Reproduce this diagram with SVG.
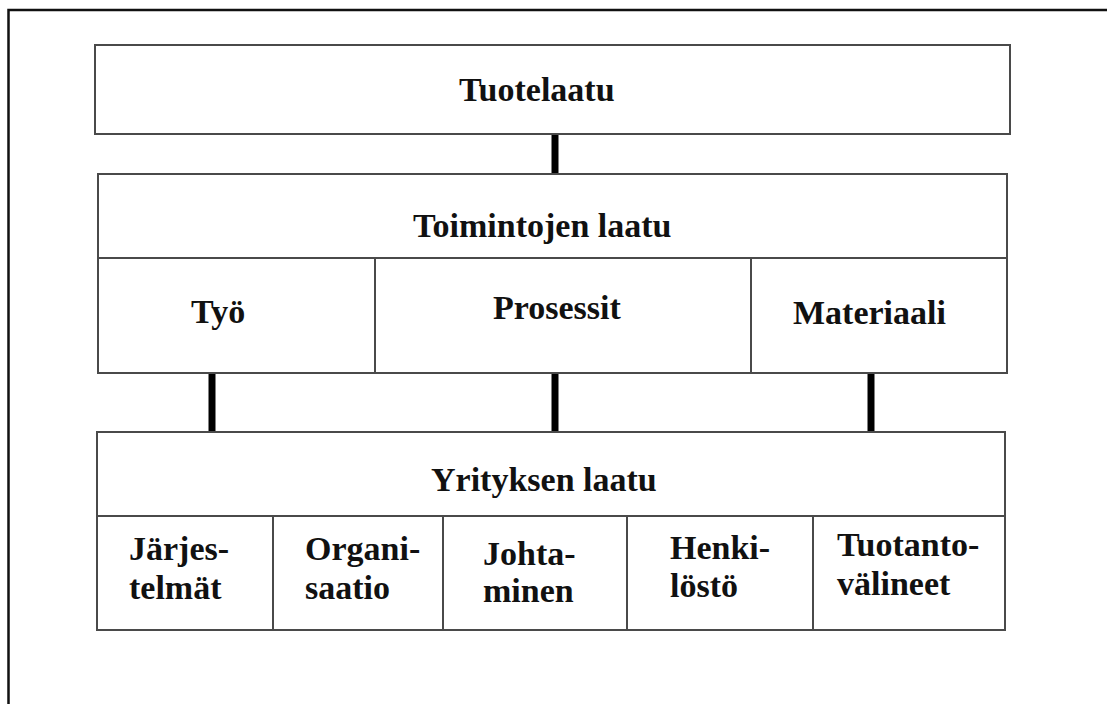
<svg xmlns="http://www.w3.org/2000/svg" width="1107" height="704" viewBox="0 0 1107 704">
  <style>
    .box { fill: #ffffff; stroke: #4a4a4a; stroke-width: 2; }
    .div { stroke: #4a4a4a; stroke-width: 2; fill: none; }
    .lbl { font-family: "Liberation Serif", "Times New Roman", serif; font-weight: bold; font-size: 34px; fill: #111111; }
    .link { stroke: #000000; stroke-width: 7; fill: none; }
  </style>
  <rect width="1107" height="704" fill="#ffffff"/>
  <!-- page frame: only left and top edges are visible -->
  <path d="M8.5 704 V10 H1107" fill="none" stroke="#111111" stroke-width="2.5"/>

  <g id="connectors">
    <line class="link" x1="555" y1="134" x2="555" y2="174"/>
    <line class="link" x1="212" y1="373" x2="212" y2="432"/>
    <line class="link" x1="555" y1="373" x2="555" y2="432"/>
    <line class="link" x1="871" y1="373" x2="871" y2="432"/>
  </g>

  <g id="tuotelaatu">
    <rect class="box" x="95" y="45" width="915" height="89"/>
    <text class="lbl" x="459" y="101">Tuotelaatu</text>
  </g>

  <g id="toimintojen-laatu">
    <rect class="box" x="98" y="174" width="909" height="199"/>
    <line class="div" x1="98" y1="258" x2="1007" y2="258"/>
    <line class="div" x1="375" y1="258" x2="375" y2="373"/>
    <line class="div" x1="751" y1="258" x2="751" y2="373"/>
    <text class="lbl" x="413" y="237">Toimintojen laatu</text>
  </g>

  <g id="tyo">
    <text class="lbl" x="191" y="323">Työ</text>
  </g>
  <g id="prosessit">
    <text class="lbl" x="493" y="319">Prosessit</text>
  </g>
  <g id="materiaali">
    <text class="lbl" x="793" y="324">Materiaali</text>
  </g>

  <g id="yrityksen-laatu">
    <rect class="box" x="97" y="432" width="908" height="198"/>
    <line class="div" x1="97" y1="516" x2="1005" y2="516"/>
    <line class="div" x1="273" y1="516" x2="273" y2="630"/>
    <line class="div" x1="443" y1="516" x2="443" y2="630"/>
    <line class="div" x1="627" y1="516" x2="627" y2="630"/>
    <line class="div" x1="813" y1="516" x2="813" y2="630"/>
    <text class="lbl" x="431" y="491">Yrityksen laatu</text>
  </g>

  <g id="jarjestelmat">
    <text class="lbl" x="129" y="560">Järjes-</text>
    <text class="lbl" x="129" y="599">telmät</text>
  </g>
  <g id="organisaatio">
    <text class="lbl" x="305" y="560">Organi-</text>
    <text class="lbl" x="305" y="599">saatio</text>
  </g>
  <g id="johtaminen">
    <text class="lbl" x="483" y="565">Johta-</text>
    <text class="lbl" x="483" y="602">minen</text>
  </g>
  <g id="henkilosto">
    <text class="lbl" x="670" y="559">Henki-</text>
    <text class="lbl" x="670" y="597">löstö</text>
  </g>
  <g id="tuotantovalineet">
    <text class="lbl" x="837" y="556">Tuotanto-</text>
    <text class="lbl" x="837" y="595">välineet</text>
  </g>
</svg>
